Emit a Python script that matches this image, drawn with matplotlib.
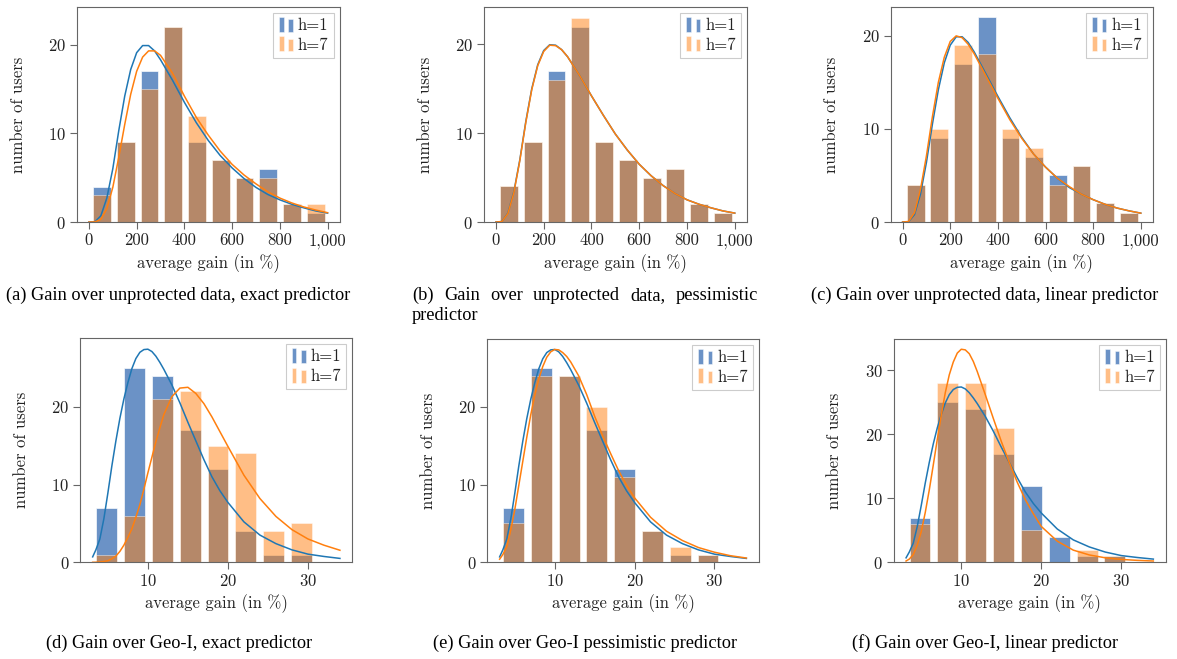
import numpy as np
import matplotlib
matplotlib.use('Agg')
import matplotlib.pyplot as plt
from matplotlib.patches import Rectangle
from matplotlib.legend_handler import HandlerBase
from matplotlib.ticker import FuncFormatter

plt.rcParams['font.family'] = 'cmr10'
plt.rcParams['axes.formatter.use_mathtext'] = True
plt.rcParams['font.size'] = 12

# ---- data -------------------------------------------------------------
# bins of the histograms (average gain in %)
top_edges = np.linspace(5, 1000, 11)
bot_edges = np.linspace(3.1, 30.94, 9)

# number of users per bin, h=1 and h=7
a_h1 = [4, 9, 17, 22, 9, 7, 5, 6, 2, 1]
a_h7 = [3, 9, 15, 22, 12, 7, 5, 5, 2, 2]
b_h1 = [4, 9, 17, 22, 9, 7, 5, 6, 2, 1]
b_h7 = [4, 9, 16, 23, 9, 7, 5, 6, 2, 1]
c_h1 = [4, 9, 17, 22, 9, 7, 5, 6, 2, 1]
c_h7 = [4, 10, 19, 18, 10, 8, 4, 6, 2, 1]
d_h1 = [7, 25, 24, 17, 12, 4, 1, 1]
d_h7 = [1, 6, 21, 22, 15, 14, 4, 5]
e_h1 = [7, 25, 24, 17, 12, 4, 1, 1]
e_h7 = [5, 24, 24, 20, 11, 4, 2, 1]
f_h1 = [7, 25, 24, 17, 12, 4, 1, 1]
f_h7 = [6, 28, 28, 21, 5, 0, 2, 1]

# fitted density curves
top_x = [0, 25, 50, 75, 100, 125, 150, 175, 200, 225, 250, 275, 300, 350, 400,
         450, 500, 550, 600, 650, 700, 750, 800, 850, 900, 950, 1000]
a_fit1 = [0, 0.02, 0.7, 2.7, 6.0, 10.3, 14.2, 17.2, 19.1, 19.9, 19.9, 19.3, 18.3, 16.0,
          13.5, 11.2, 9.2, 7.5, 6.1, 4.9, 3.9, 3.1, 2.5, 2.0, 1.6, 1.25, 1.0]
a_fit7 = [0, 0.01, 0.3, 1.5, 3.9, 7.3, 11.0, 14.4, 17.0, 18.6, 19.3, 19.3, 18.8, 16.8,
          14.2, 11.8, 9.8, 8.0, 6.5, 5.3, 4.3, 3.4, 2.7, 2.15, 1.7, 1.35, 1.05]
b_fit1 = [0, 0.05, 1.0, 3.4, 7.0, 11.3, 15.0, 17.7, 19.3, 19.95, 19.9, 19.4, 18.6, 16.5,
          14.2, 12.0, 9.9, 8.1, 6.5, 5.2, 4.1, 3.2, 2.5, 2.0, 1.6, 1.25, 1.0]
b_fit7 = [0, 0.05, 0.95, 3.3, 6.9, 11.2, 14.9, 17.6, 19.2, 19.9, 19.85, 19.4, 18.6, 16.5,
          14.2, 12.0, 9.9, 8.1, 6.5, 5.2, 4.1, 3.2, 2.5, 2.0, 1.6, 1.25, 1.0]
c_fit1 = [0, 0.03, 0.8, 3.0, 6.4, 10.5, 14.2, 17.1, 19.0, 19.9, 19.9, 19.3, 18.3, 15.9,
          13.5, 11.2, 9.1, 7.3, 5.9, 4.7, 3.7, 3.0, 2.4, 1.9, 1.5, 1.2, 0.95]
c_fit7 = [0, 0.05, 1.0, 3.5, 7.1, 11.3, 15.0, 17.7, 19.4, 20.0, 19.8, 19.1, 18.1, 15.7,
          13.3, 11.0, 9.0, 7.3, 5.9, 4.7, 3.8, 3.0, 2.4, 1.9, 1.5, 1.2, 0.95]

bot_x = [3.1, 3.5, 4, 4.5, 5, 5.5, 6, 6.5, 7, 7.5, 8, 8.5, 9, 9.5, 10, 10.5, 11, 11.5,
         12, 13, 14, 15, 16, 17, 18, 19, 20, 22, 24, 26, 28, 30, 32, 34]
d_fit1 = [0.7, 1.6, 3.0, 5.6, 8.9, 12.4, 15.6, 18.5, 21.0, 23.1, 24.9, 26.2, 27.0, 27.35,
          27.4, 27.1, 26.5, 25.7, 24.8, 22.8, 20.5, 18.0, 15.6, 13.2, 11.0, 9.2, 7.7,
          5.2, 3.5, 2.4, 1.6, 1.05, 0.75, 0.5]
d_fit7 = [0, 0.01, 0.05, 0.1, 0.2, 0.45, 0.8, 1.4, 2.2, 3.2, 4.3, 5.8, 7.4, 9.4,
          11.5, 13.5, 15.5, 17.3, 19.0, 21.3, 22.4, 22.5, 21.7, 20.4, 18.7, 16.8, 14.9,
          11.2, 8.2, 5.9, 4.2, 3.0, 2.2, 1.55]
e_fit1 = [0.7, 1.6, 3.0, 5.6, 8.9, 12.4, 15.6, 18.5, 21.0, 23.1, 24.9, 26.2, 27.0, 27.35,
          27.4, 27.1, 26.5, 25.7, 24.8, 22.8, 20.5, 18.0, 15.6, 13.2, 11.0, 9.2, 7.7,
          5.2, 3.5, 2.4, 1.6, 1.05, 0.75, 0.5]
e_fit7 = [0.4, 1.0, 2.0, 4.2, 6.8, 9.9, 13.0, 16.1, 19.0, 21.5, 23.6, 25.2, 26.4, 27.1,
          27.4, 27.35, 27.0, 26.5, 25.8, 24.0, 21.6, 18.8, 16.3, 14.0, 11.8, 9.9, 8.3,
          5.8, 4.0, 2.8, 1.9, 1.3, 0.85, 0.55]
f_fit1 = [0.7, 1.6, 3.0, 5.6, 8.9, 12.4, 15.6, 18.5, 21.0, 23.1, 24.9, 26.2, 27.0, 27.35,
          27.4, 27.1, 26.5, 25.7, 24.8, 22.8, 20.5, 18.0, 15.6, 13.2, 11.0, 9.2, 7.7,
          5.2, 3.5, 2.4, 1.6, 1.05, 0.75, 0.5]
f_fit7 = [0.2, 0.5, 1.2, 2.7, 4.8, 7.8, 11.3, 15.2, 19.2, 23.0, 26.5, 29.3, 31.3, 32.7,
          33.3, 33.2, 32.6, 31.4, 29.8, 26.2, 22.5, 18.9, 15.6, 12.5, 9.8, 7.6, 5.6,
          3.3, 1.9, 1.15, 0.7, 0.45, 0.3, 0.2]

captions = [
    '(a) Gain over unprotected data, exact predictor',
    '(b) Gain over unprotected data, pessimistic predictor',
    '(c) Gain over unprotected data, linear predictor',
    '(d) Gain over Geo-I, exact predictor',
    '(e) Gain over Geo-I pessimistic predictor',
    '(f) Gain over Geo-I, linear predictor',
]
labels = ['h=1', 'h=7']

# ---- style ------------------------------------------------------------
blue = '#3a6eb4'
orange = '#ff7f0e'
line_blue = '#1f77b4'
spine_col = '#666666'
text_col = '#222222'


class TwoBars(HandlerBase):
    # pgfplots style "ybar legend": two small bars
    def create_artists(self, legend, orig_handle, xdescent, ydescent,
                       width, height, fontsize, trans):
        fc = orig_handle.get_facecolor()
        bw = width * 0.28
        r1 = Rectangle((-xdescent + width * 0.05, -ydescent - 0.15 * height), bw, height * 1.3,
                       facecolor=fc, edgecolor=(1, 1, 1, 0.6), lw=0.5, transform=trans)
        r2 = Rectangle((-xdescent + width * 0.62, -ydescent - 0.15 * height), bw, height * 1.1,
                       facecolor=fc, edgecolor=(1, 1, 1, 0.6), lw=0.5, transform=trans)
        return [r1, r2]


W, H = 1177, 659
fig = plt.figure(figsize=(W / 100, H / 100), dpi=100)

# axes boxes in pixels: left, right, top, bottom
boxes = [(77, 339.5, 7, 222), (484, 746.7, 7, 222), (890.7, 1152.7, 7, 222),
         (80.3, 352.3, 338.3, 562.3), (487.3, 758.7, 339, 562.3), (893.7, 1165.7, 339, 562.3)]
ytops = [24.25, 24.2, 23.1, 28.8, 28.75, 34.9]

panels = [
    (top_edges, a_h1, a_h7, top_x, a_fit1, a_fit7),
    (top_edges, b_h1, b_h7, top_x, b_fit1, b_fit7),
    (top_edges, c_h1, c_h7, top_x, c_fit1, c_fit7),
    (bot_edges, d_h1, d_h7, bot_x, d_fit1, d_fit7),
    (bot_edges, e_h1, e_h7, bot_x, e_fit1, e_fit7),
    (bot_edges, f_h1, f_h7, bot_x, f_fit1, f_fit7),
]

for i, (edges, h1, h7, fx, fit1, fit7) in enumerate(panels):
    l, r, t, b = boxes[i]
    ax = fig.add_axes([l / W, 1 - b / H, (r - l) / W, (b - t) / H])
    centers = (edges[:-1] + edges[1:]) / 2
    bw = (edges[1] - edges[0]) * 0.75
    ax.bar(centers, h1, width=bw, color=blue, alpha=0.75,
           edgecolor=(1, 1, 1, 0.5), linewidth=0.6)
    ax.bar(centers, h7, width=bw, color=orange, alpha=0.5,
           edgecolor=(1, 1, 1, 0.5), linewidth=0.6)
    ax.plot(fx, fit1, color=line_blue, lw=1.1)
    ax.plot(fx, fit7, color=orange, lw=1.1)

    span = fx[-1] - fx[0]
    ax.set_xlim(fx[0] - 0.05 * span, fx[-1] + 0.05 * span)
    ax.set_ylim(0, ytops[i])
    if i < 3:
        ax.set_xticks([0, 200, 400, 600, 800, 1000])
        ax.xaxis.set_major_formatter(FuncFormatter(lambda v, p: '{:,.0f}'.format(v)))
    else:
        ax.set_xticks([10, 20, 30])
    ax.set_yticks([0, 10, 20, 30] if i == 5 else [0, 10, 20])

    for s in ax.spines.values():
        s.set_color(spine_col)
        s.set_linewidth(0.8)
    ax.tick_params(direction='out', length=5, width=0.8, color=spine_col,
                   labelcolor=text_col, labelsize=12, top=False, right=False, pad=3)
    ax.set_xlabel('average gain (in %)', color=text_col, fontsize=12)
    ax.set_ylabel('number of users', color=text_col, fontsize=12)
    ax.xaxis.set_label_coords(0.5, -41.5 / (b - t))
    ax.xaxis.label.set_va('center')
    ax.yaxis.set_label_coords(-59 / (r - l), 0.5)
    ax.yaxis.label.set_va('center')

    proxies = [Rectangle((0, 0), 1, 1, facecolor=blue, alpha=0.75),
               Rectangle((0, 0), 1, 1, facecolor=orange, alpha=0.5)]
    leg = ax.legend(proxies, labels, loc='upper right', handler_map={Rectangle: TwoBars()},
                    handlelength=1.0, handleheight=0.7, handletextpad=0.2,
                    labelspacing=0.25, borderpad=0.3, borderaxespad=0.35,
                    fancybox=False, framealpha=1, edgecolor='#cccccc', fontsize=12)
    leg.get_frame().set_linewidth(0.8)
    for txt in leg.get_texts():
        txt.set_color(text_col)

# ---- captions ---------------------------------------------------------
cap_font = dict(family='Liberation Serif', size=13.2, color='black')
cap_centers = [(178, 300), None, (985, 300), (179, 648), (585, 648), (985, 648)]
for i, c in enumerate(cap_centers):
    if c is None:
        continue
    fig.text(c[0] / W, 1 - c[1] / H, captions[i], ha='center', va='baseline', **cap_font)

# caption (b) is a justified paragraph over two lines
words = captions[1].split()
line1, line2 = words[:-1], words[-1:]
x0, x1 = 412, 758
renderer = fig.canvas.get_renderer()
pieces = [fig.text(0, 1 - 300 / H, w, ha='left', va='baseline', **cap_font) for w in line1]
widths = [p.get_window_extent(renderer).width for p in pieces]
gap = (x1 - x0 - sum(widths)) / (len(pieces) - 1)
pos = x0
for p, w in zip(pieces, widths):
    p.set_x(pos / W)
    pos += w + gap
fig.text(x0 / W, 1 - 319.5 / H, ' '.join(line2), ha='left', va='baseline', **cap_font)

fig.savefig('out.png', dpi=100)
